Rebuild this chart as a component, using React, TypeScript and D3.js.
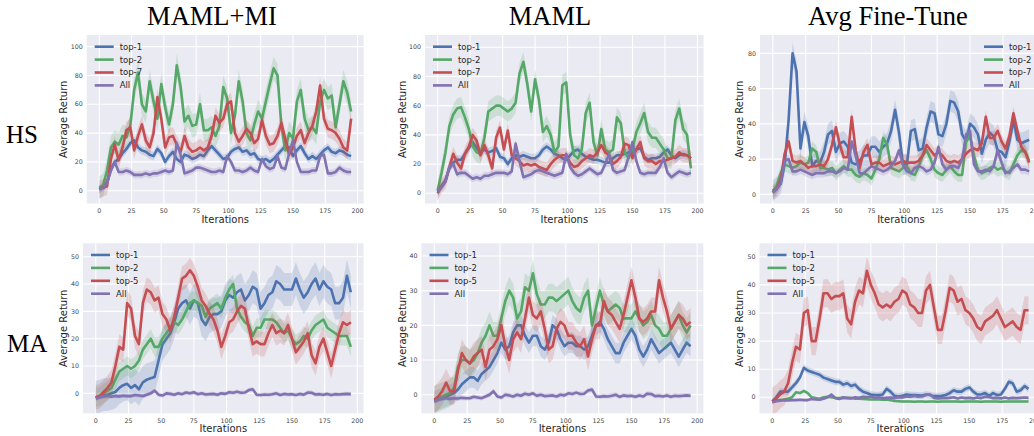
import React, { useEffect, useRef } from "react";
import * as d3 from "d3";

// iteration index of every sample
const iterations = [
  0, 3, 6, 9, 12, 15, 18, 21, 24, 27, 30,
  33, 36, 39, 42, 45, 48, 51, 54, 57, 60, 63,
  66, 69, 72, 75, 78, 81, 84, 87, 90, 93, 96,
  99, 102, 105, 108, 111, 114, 117, 120, 123, 126, 129,
  132, 135, 138, 141, 144, 147, 150, 153, 156, 159, 162,
  165, 168, 171, 174, 177, 180, 183, 186, 189, 192, 195,
];

const columnTitles = ["MAML+MI", "MAML", "Avg Fine-Tune"];
const rowTitles = ["HS", "MA"];
const hsLabels = ["top-1", "top-2", "top-7", "All"];
const maLabels = ["top-1", "top-2", "top-5", "All"];
const xTicks = [0, 25, 50, 75, 100, 125, 150, 175, 200];
const hsTicks100 = [0, 20, 40, 60, 80, 100];
const hsTicks80 = [0, 20, 40, 60, 80];
const maTicks50 = [0, 10, 20, 30, 40, 50];
const maTicks40 = [0, 10, 20, 30, 40];

// ---- HS / MAML+MI
const hsMamlMiTop1 = [
  1, 3, 6, 15, 20, 22, 26, 29, 33, 35, 30,
  28, 27, 25, 24, 29, 26, 20, 24, 27, 22, 20,
  25, 24, 22, 23, 25, 24, 28, 31, 28, 25, 22,
  23, 27, 29, 30, 27, 28, 25, 26, 22, 21, 22,
  20, 22, 25, 28, 31, 30, 24, 28, 31, 26, 22,
  24, 22, 25, 28, 30, 27, 26, 28, 27, 25, 24,
];
const hsMamlMiTop2 = [
  2, 4, 14, 30, 34, 32, 38, 37, 45, 70, 82,
  60, 55, 76, 62, 50, 74, 58, 46, 60, 87, 72,
  48, 52, 45, 46, 60, 42, 42, 44, 38, 45, 72,
  64, 40, 52, 76, 62, 40, 35, 46, 55, 50, 62,
  74, 85, 80, 45, 28, 40, 36, 62, 70, 50, 42,
  44, 40, 62, 70, 64, 66, 44, 60, 76, 68, 55,
];
const hsMamlMiTop7 = [
  1, 2, 3, 22, 32, 21, 30, 42, 44, 28, 38,
  46, 35, 30, 40, 65, 50, 30, 37, 38, 32, 27,
  38, 30, 27, 28, 30, 28, 30, 38, 52, 47, 50,
  60, 62, 40, 34, 38, 43, 40, 33, 36, 49, 38,
  32, 33, 38, 47, 36, 25, 30, 38, 42, 33, 40,
  45, 55, 73, 50, 43, 42, 40, 36, 30, 28, 50,
];
const hsMamlMiAll = [
  1, 2, 5, 14, 20, 13, 13, 14, 13, 11, 11,
  11, 12, 11, 12, 12, 13, 14, 13, 14, 33, 25,
  12, 13, 14, 16, 16, 15, 14, 13, 13, 14, 13,
  24, 20, 14, 14, 13, 14, 16, 14, 13, 22, 17,
  15, 16, 24, 16, 15, 26, 35, 20, 13, 13, 13,
  14, 14, 24, 25, 12, 12, 13, 16, 14, 13, 13,
];
const hsMamlMiSpread = [3, 8, 6, 2.5];

// ---- HS / MAML
const hsMamlTop1 = [
  1, 5, 9, 17, 21, 23, 23, 27, 31, 35, 31,
  28, 30, 28, 29, 31, 25, 24, 20, 24, 26, 25,
  26, 25, 24, 24, 26, 30, 32, 30, 27, 26, 24,
  23, 26, 29, 30, 27, 25, 24, 23, 23, 22, 21,
  21, 24, 26, 26, 27, 28, 28, 30, 31, 25, 23,
  24, 24, 25, 28, 30, 26, 24, 26, 27, 26, 24,
];
const hsMamlTop2 = [
  2, 14, 28, 46, 54, 58, 59, 52, 44, 32, 28,
  27, 38, 56, 58, 60, 60, 58, 56, 58, 62, 82,
  90, 75, 56, 78, 64, 42, 46, 40, 28, 32, 74,
  76, 40, 26, 24, 30, 55, 62, 35, 26, 44, 30,
  28, 30, 52, 48, 28, 24, 30, 42, 48, 55, 42,
  38, 38, 34, 30, 24, 24, 50, 58, 44, 40, 17,
];
const hsMamlTop7 = [
  0, 5, 8, 18, 27, 21, 17, 27, 32, 40, 36,
  26, 33, 26, 17, 38, 45, 30, 43, 26, 24, 22,
  19, 20, 19, 20, 18, 17, 16, 20, 23, 25, 26,
  26, 21, 18, 19, 22, 24, 26, 25, 28, 33, 28,
  26, 20, 22, 25, 34, 33, 24, 30, 35, 24, 22,
  22, 20, 22, 22, 23, 24, 25, 28, 26, 26, 24,
];
const hsMamlAll = [
  1, 4, 8, 18, 20, 13, 14, 14, 12, 10, 11,
  10, 12, 12, 13, 14, 14, 14, 13, 15, 34, 22,
  11, 12, 13, 15, 16, 15, 14, 13, 12, 13, 14,
  27, 18, 14, 12, 13, 15, 17, 15, 13, 14, 20,
  27, 16, 14, 15, 16, 25, 35, 22, 14, 13, 14,
  14, 14, 18, 24, 14, 11, 13, 15, 14, 13, 14,
];
const hsMamlSpread = [3, 7, 5, 2.5];

// ---- HS / Avg Fine-Tune
const hsFineTop1 = [
  2, 4, 6, 17, 42, 80, 70, 26, 41, 33, 16,
  19, 18, 24, 34, 36, 24, 29, 30, 27, 18, 17,
  19, 22, 22, 27, 27, 24, 27, 29, 36, 48, 35,
  17, 17, 36, 37, 25, 26, 38, 47, 46, 34, 33,
  40, 53, 52, 47, 34, 30, 40, 38, 34, 23, 31,
  35, 33, 25, 24, 21, 30, 42, 31, 29, 30, 31,
];
const hsFineTop2 = [
  1, 5, 12, 17, 16, 15, 16, 18, 17, 18, 26,
  24, 15, 15, 14, 15, 12, 14, 16, 14, 14, 11,
  10, 12, 11, 9, 14, 20, 32, 28, 15, 14, 13,
  15, 16, 12, 11, 16, 22, 25, 20, 14, 12, 11,
  14, 16, 13, 11, 11, 30, 33, 22, 14, 12, 13,
  15, 16, 14, 15, 13, 12, 17, 22, 25, 24, 19,
];
const hsFineTop7 = [
  1, 3, 8, 23, 30, 19, 18, 19, 17, 15, 16,
  16, 17, 16, 20, 28, 38, 28, 21, 21, 44, 25,
  15, 24, 28, 17, 18, 18, 16, 17, 18, 17, 18,
  19, 18, 18, 18, 19, 22, 28, 25, 22, 24, 22,
  19, 18, 19, 18, 20, 23, 25, 26, 25, 29, 44,
  32, 32, 36, 30, 26, 33, 46, 36, 27, 24, 18,
];
const hsFineAll = [
  1, 3, 6, 19, 20, 13, 13, 14, 13, 12, 11,
  12, 12, 12, 13, 13, 12, 13, 15, 14, 30, 22,
  12, 12, 14, 16, 15, 14, 13, 14, 16, 19, 25,
  17, 13, 12, 15, 16, 15, 13, 14, 18, 27, 17,
  14, 16, 16, 15, 20, 34, 36, 17, 13, 13, 14,
  13, 16, 25, 18, 12, 13, 15, 17, 14, 14, 13,
];
const hsFineSpread = [6, 4, 4, 2.5];

// ---- MA / MAML+MI
const maMamlMiTop1 = [
  -1.5, -1, -0.5, -0.5, 0, 0.5, 2, 3, 3.5, 2, 3,
  1.5, 4, 5, 5.5, 6, 12, 18, 20, 22, 26, 31,
  33, 34, 31, 34, 33, 27, 25, 28, 29, 29, 30,
  34, 36, 35, 37, 38, 34, 36, 39, 38, 31, 33,
  36, 37, 41, 40, 38, 38, 38, 42, 38, 35, 37,
  40, 42, 38, 41, 39, 38, 33, 33, 35, 43, 37,
];
const maMamlMiTop2 = [
  -1.5, -1, 0, 1, 2, 5, 8, 9, 10, 9, 10,
  12, 16, 18, 20, 17, 17, 20, 22, 24, 26, 25,
  27, 30, 33, 34, 33, 32, 28, 31, 32, 33, 31,
  35, 38, 40, 31, 28, 26, 25, 21, 24, 24, 27,
  27, 27, 26, 24, 22, 23, 20, 18, 19, 21, 20,
  23, 25, 26, 27, 24, 23, 22, 21, 21, 21, 17,
];
const maMamlMiTop5 = [
  -1.5, -1, 0.5, 2, 4, 10, 17, 16, 33, 31, 21,
  18, 33, 38, 37, 34, 35, 29, 27, 23, 28, 35,
  42, 43, 45, 43, 39, 34, 32, 29, 27, 23, 17,
  21, 26, 27, 30, 32, 31, 24, 18, 19, 18, 18,
  22, 25, 22, 23, 22, 25, 20, 15, 17, 19, 22,
  14, 11, 17, 20, 15, 10, 16, 22, 26, 25, 26,
];
const maMamlMiAll = [
  -2, -1.5, -1.2, -1, -1.2, -1, -1.1, -0.9, -1, -1, -0.6,
  -0.8, -1, -0.5, 0, 1, -0.5, -0.8, 0, -0.2, -0.5, 0,
  -0.3, 0.3, 0, 0.4, -0.3, 0, -0.4, -0.3, -0.2, -0.5, 0,
  -0.2, 0.4, 0.2, 0.6, 0.2, 0.3, 1.2, 1.5, -0.5, -0.6, -0.4,
  -0.5, -0.3, 0, -0.6, -0.2, -0.4, -0.3, -0.6, -0.2, -0.5, 0.3,
  0.2, -0.4, -0.3, -0.5, -0.2, -0.6, -0.3, -0.4, -0.3, -0.2, -0.3,
];
const maMamlMiSpread = [6, 3.5, 4.5, 0.8];

// ---- MA / MAML
const maMamlTop1 = [
  -2, -1.5, -1, -0.5, 0, 0.5, 1.5, 3, 4, 5, 5,
  4, 6, 7, 8, 10, 12, 15, 13, 14, 18, 20,
  20, 17, 15, 17, 17, 14, 13, 15, 20, 19, 16,
  14, 15, 15, 14, 14, 13, 14, 17, 20, 21, 19,
  16, 14, 12, 12, 15, 17, 19, 17, 13, 11, 13,
  16, 14, 12, 13, 14, 15, 13, 11, 13, 15, 14,
];
const maMamlTop2 = [
  -1.5, -1, -0.5, 0, 0.5, 2, 8, 10, 10, 9, 10,
  12, 15, 17, 20, 17, 17, 22, 27, 30, 28, 22,
  24, 31, 30, 35, 29, 26, 26, 28, 28, 27, 28,
  29, 30, 27, 25, 24, 28, 30, 20, 25, 30, 26,
  24, 25, 26, 25, 22, 22, 22, 24, 22, 20, 21,
  23, 20, 19, 17, 17, 19, 21, 23, 20, 18, 20,
];
const maMamlTop5 = [
  -1.5, -0.5, 1, 3.5, 1, 1, 7, 12, 10, 9, 11,
  12, 13, 8, 13, 14, 16, 20, 14, 10, 16, 18,
  16, 22, 28, 23, 22, 24, 19, 13, 14, 19, 21,
  20, 17, 17, 15, 14, 16, 11, 16, 20, 20, 27,
  24, 23, 21, 19, 23, 28, 33, 28, 22, 21, 22,
  24, 24, 33, 28, 24, 19, 21, 23, 22, 20, 21,
];
const maMamlAll = [
  -2, -1.5, -1.2, -1, -1.2, -1, -1.1, -0.9, -1, -1, -0.6,
  -0.8, -1, -0.5, 0, 1, -0.5, -0.8, 0, -0.2, -0.5, 0,
  -0.3, 0.3, 0, 0.4, -0.3, 0, -0.4, -0.3, -0.2, -0.5, 0,
  -0.2, 0.4, 0.2, 0.6, 0.2, 0.3, 1.2, 1.5, -0.5, -0.6, -0.4,
  -0.5, -0.3, 0, -0.6, -0.2, -0.4, -0.3, -0.6, -0.2, -0.5, 0.3,
  0.2, -0.4, -0.3, -0.5, -0.2, -0.6, -0.3, -0.4, -0.3, -0.2, -0.3,
];
const maMamlSpread = [3, 4, 4, 0.7];

// ---- MA / Avg Fine-Tune
const maFineTop1 = [
  -1.5, 0, 2, 2, 2, 3.5, 5, 7, 10.5, 9.5, 9,
  8.5, 8, 7, 6.5, 6, 5.5, 5.5, 4.5, 5, 4, 4.5,
  3, 2, 1.5, 1, 0.8, 0.8, 1, 3, 2, 0.5, 0.3,
  0.5, 1, 0.8, 0.8, 0.7, 0.6, 1, 0.8, 0.4, 0.4, 0.5,
  0.8, 1.5, 2.5, 2, 2, 3, 3.5, 2, 1, 1, 1.5,
  0.5, 1.5, 0.8, 1, 3, 5.5, 5, 2, 2.5, 4, 3,
];
const maFineTop2 = [
  -1.5, -1.2, -1, -0.8, -0.5, 0, 1.8, 1.5, 2.3, 1.5, 0,
  -0.3, -0.5, 0, 0.2, 0, -0.2, -0.3, -0.2, -0.3, -0.2, -0.5,
  -0.5, -0.6, -0.7, -0.8, -0.8, -0.8, -0.9, -0.8, -1, -1.3, -1.4,
  -1.5, -1.5, -1.5, -1.6, -1.5, -1.5, -1.6, -1.5, -1.5, -1.6, -1.5,
  -1.5, -1.5, -1.5, -1.5, -1.6, -1.5, -1.5, -1.5, -1.5, -1.6, -1.5,
  -1.5, -1.5, -1.5, -1.6, -1.5, -1.5, -1.5, -1.5, -1.5, -1.5, -1.5,
];
const maFineTop5 = [
  -1.5, -0.5, 1, 2, 5, 12, 18, 17, 30, 31, 20,
  20, 28, 37, 37, 35, 36, 36, 37, 28, 26, 34,
  38, 37, 45, 40, 37, 33, 32, 33, 32, 34, 35,
  38, 37, 33, 32, 30, 30, 38, 40, 32, 24, 24,
  31, 39, 38, 34, 35, 31, 30, 28, 25, 24, 27,
  28, 29, 31, 28, 25, 26, 27, 25, 24, 31, 31,
];
const maFineAll = [
  -1.8, -1.4, -1.2, -1, -1.1, -1, -1, -0.9, -1, -1, -0.6,
  -0.8, -0.9, -0.5, 0, 1, -0.3, -0.6, 0, -0.2, -0.4, 0,
  -0.2, 0.2, 0, 0.3, -0.2, 0, -0.3, -0.2, -0.1, -0.3, 0,
  -0.1, 0.3, 0.2, 0.5, 0.2, 0.3, 0.8, 1, -0.2, -0.4, -0.3,
  -0.3, -0.2, 0, -0.4, -0.1, -0.3, -0.2, -0.4, -0.1, -0.3, 0.2,
  0.1, -0.3, -0.2, -0.4, -0.1, -0.4, -0.2, -0.3, -0.2, -0.1, -0.2,
];
const maFineSpread = [1.2, 0.4, 5, 0.5];

const colors = ["#4C72B0", "#55A868", "#C44E52", "#8172B2"];

const panels = [
  { left: 86.7, right: 363.7, top: 35, bottom: 203.5, yDomain: [-8.9, 108.1], yTicks: hsTicks100,
    labels: hsLabels, series: [hsMamlMiTop1, hsMamlMiTop2, hsMamlMiTop7, hsMamlMiAll], spread: hsMamlMiSpread,
    legendRight: false, yLabelGap: 23.5 },
  { left: 425, right: 703.6, top: 35, bottom: 203.5, yDomain: [-7.0, 108.4], yTicks: hsTicks100,
    labels: hsLabels, series: [hsMamlTop1, hsMamlTop2, hsMamlTop7, hsMamlAll], spread: hsMamlSpread,
    legendRight: false, yLabelGap: 23 },
  { left: 760, right: 1042, top: 35, bottom: 203.5, yDomain: [-5.2, 90.4], yTicks: hsTicks80,
    labels: hsLabels, series: [hsFineTop1, hsFineTop2, hsFineTop7, hsFineAll], spread: hsFineSpread,
    legendRight: true, yLabelGap: 21 },
  { left: 83, right: 363.6, top: 243.3, bottom: 413.3, yDomain: [-7.3, 54.9], yTicks: maTicks50,
    labels: maLabels, series: [maMamlMiTop1, maMamlMiTop2, maMamlMiTop5, maMamlMiAll], spread: maMamlMiSpread,
    legendRight: false, yLabelGap: 19.5 },
  { left: 421.5, right: 703.4, top: 243.3, bottom: 413.3, yDomain: [-5.36, 43.66], yTicks: maTicks40,
    labels: maLabels, series: [maMamlTop1, maMamlTop2, maMamlTop5, maMamlAll], spread: maMamlSpread,
    legendRight: false, yLabelGap: 19.5 },
  { left: 759.5, right: 1041.3, top: 243.3, bottom: 413.3, yDomain: [-5.7, 54.8], yTicks: maTicks50,
    labels: maLabels, series: [maFineTop1, maFineTop2, maFineTop5, maFineAll], spread: maFineSpread,
    legendRight: false, yLabelGap: 20.5 },
];

const sans = "'DejaVu Sans', sans-serif";
const serif = "'Liberation Serif', 'Times New Roman', serif";

export default function App() {
  const svgRef = useRef<SVGSVGElement>(null);

  useEffect(() => {
    const svg = d3.select(svgRef.current);
    svg.selectAll("*").remove();

    panels.forEach((p, pi) => {
      const x = d3.scaleLinear().domain([-9.75, 204.75]).range([p.left, p.right]);
      const y = d3.scaleLinear().domain(p.yDomain).range([p.bottom, p.top]);
      const g = svg.append("g");

      // clip so bands never leak out of the axes
      const clipId = "clip" + pi;
      svg.append("clipPath").attr("id", clipId)
        .append("rect")
        .attr("x", p.left).attr("y", p.top)
        .attr("width", p.right - p.left).attr("height", p.bottom - p.top);

      g.append("rect")
        .attr("x", p.left).attr("y", p.top)
        .attr("width", p.right - p.left).attr("height", p.bottom - p.top)
        .attr("fill", "#EAEAF2");

      // white grid
      g.selectAll(".vgrid").data(xTicks).join("line")
        .attr("x1", (d) => x(d)).attr("x2", (d) => x(d))
        .attr("y1", p.top).attr("y2", p.bottom)
        .attr("stroke", "white").attr("stroke-width", 1.1);
      g.selectAll(".hgrid").data(p.yTicks).join("line")
        .attr("class", "hgrid")
        .attr("x1", p.left).attr("x2", p.right)
        .attr("y1", (d) => y(d)).attr("y2", (d) => y(d))
        .attr("stroke", "white").attr("stroke-width", 1.1);

      // tick labels
      g.selectAll(".xtl").data(xTicks).join("text")
        .attr("class", "xtl")
        .attr("x", (d) => x(d)).attr("y", p.bottom + 9.5)
        .attr("text-anchor", "middle")
        .attr("font-family", sans).attr("font-size", 6.3).attr("fill", "#444")
        .text((d) => d);
      g.selectAll(".ytl").data(p.yTicks).join("text")
        .attr("class", "ytl")
        .attr("x", p.left - 4).attr("y", (d) => y(d))
        .attr("dy", "0.35em")
        .attr("text-anchor", "end")
        .attr("font-family", sans).attr("font-size", 6.3).attr("fill", "#444")
        .text((d) => d);

      // series: band then line, in order
      const plot = g.append("g").attr("clip-path", `url(#${clipId})`);
      p.series.forEach((vals, si) => {
        const s = p.spread[si];
        const area = d3.area<number>()
          .x((d, i) => x(iterations[i]))
          .y0((d) => y(d - s))
          .y1((d) => y(d + s));
        const line = d3.line<number>()
          .x((d, i) => x(iterations[i]))
          .y((d) => y(d));
        plot.append("path").attr("d", area(vals) as string)
          .attr("fill", colors[si]).attr("fill-opacity", 0.2);
        plot.append("path").attr("d", line(vals) as string)
          .attr("fill", "none").attr("stroke", colors[si])
          .attr("stroke-width", 2.6).attr("stroke-linejoin", "round");
      });

      // legend
      const lx = p.legendRight ? p.right - 58 : p.left + 8;
      p.labels.forEach((lab, li) => {
        const ly = p.top + 11.7 + li * 12.9;
        g.append("line")
          .attr("x1", lx).attr("x2", lx + 19)
          .attr("y1", ly).attr("y2", ly)
          .attr("stroke", colors[li]).attr("stroke-width", 2.6);
        g.append("text")
          .attr("x", lx + 25).attr("y", ly).attr("dy", "0.35em")
          .attr("font-family", sans).attr("font-size", 8.5).attr("fill", "#262626")
          .text(lab);
      });

      // axis labels
      g.append("text")
        .attr("x", (p.left + p.right) / 2).attr("y", p.bottom + 19)
        .attr("text-anchor", "middle")
        .attr("font-family", sans).attr("font-size", 10).attr("fill", "#262626")
        .text("Iterations");
      g.append("text")
        .attr("transform", `translate(${p.left - p.yLabelGap},${(p.top + p.bottom) / 2}) rotate(-90)`)
        .attr("text-anchor", "middle").attr("dy", "0.35em")
        .attr("font-family", sans).attr("font-size", 10).attr("fill", "#262626")
        .text("Average Return");
    });

    // column and row titles
    const titleX = [212, 550, 888];
    columnTitles.forEach((t, i) => {
      svg.append("text")
        .attr("x", titleX[i]).attr("y", 25)
        .attr("text-anchor", "middle")
        .attr("font-family", serif).attr("font-size", 26.5).attr("fill", "black")
        .text(t);
    });
    const rowY = [143, 351.5];
    rowTitles.forEach((t, i) => {
      svg.append("text")
        .attr("x", 6 + i).attr("y", rowY[i])
        .attr("font-family", serif).attr("font-size", 25).attr("fill", "black")
        .text(t);
    });
  }, []);

  return (
    <svg
      ref={svgRef}
      width={1034}
      height={436}
      style={{ position: "absolute", left: 0, top: 0, background: "white" }}
    />
  );
}
